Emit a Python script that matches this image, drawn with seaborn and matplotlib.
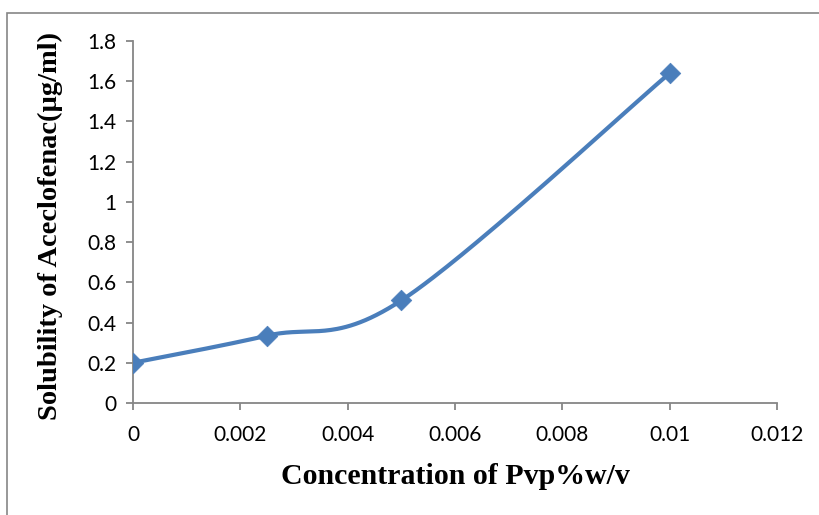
import numpy as np
import pandas as pd
import matplotlib
matplotlib.use("Agg")
import matplotlib.pyplot as plt
from matplotlib.patches import Rectangle
import seaborn as sns

# Measured solubility at each PVP concentration
concentration = [0.0, 0.0025, 0.005, 0.01]
solubility = [0.2, 0.335, 0.51, 1.64]
x_ticks = [0, 0.002, 0.004, 0.006, 0.008, 0.01, 0.012]
x_tick_labels = ["0", "0.002", "0.004", "0.006", "0.008", "0.01", "0.012"]
y_ticks = [0, 0.2, 0.4, 0.6, 0.8, 1, 1.2, 1.4, 1.6, 1.8]
y_tick_labels = ["0", "0.2", "0.4", "0.6", "0.8", "1", "1.2", "1.4", "1.6", "1.8"]

LINE_COLOR = "#4A7EBB"
AXIS_COLOR = "#868686"

sns.set_theme(style="white")
plt.rcParams["font.family"] = ["Lato", "DejaVu Sans"]
plt.rcParams["text.color"] = "black"

fig = plt.figure(figsize=(8.2, 5.15), dpi=100)
ax = fig.add_axes([133 / 820, 1 - 403 / 515, (777 - 133) / 820, (403 - 41) / 515])

xmin, xmax, ymin, ymax = 0, 0.012, 0, 1.8
W, H = 644.0, 362.0  # axes size in pixels, for smoothing in screen space


def smooth_curve(xs, ys, n=60):
    """Catmull-Rom style Bezier smoothing done in screen proportions."""
    px = (np.asarray(xs) - xmin) / (xmax - xmin) * W
    py = (np.asarray(ys) - ymin) / (ymax - ymin) * H
    pts = np.column_stack([px, py])
    ext = np.vstack([pts[0], pts, pts[-1]])
    out = []
    t = np.linspace(0, 1, n)[:, None]
    for i in range(1, len(ext) - 2):
        p0, p1, p2, p3 = ext[i - 1], ext[i], ext[i + 1], ext[i + 2]
        c1 = p1 + (p2 - p0) / 6.0
        c2 = p2 - (p3 - p1) / 6.0
        seg = ((1 - t) ** 3) * p1 + 3 * ((1 - t) ** 2) * t * c1 + 3 * (1 - t) * t ** 2 * c2 + t ** 3 * p2
        out.append(seg if i == 1 else seg[1:])
    out = np.vstack(out)
    return out[:, 0] / W * (xmax - xmin) + xmin, out[:, 1] / H * (ymax - ymin) + ymin


cx, cy = smooth_curve(concentration, solubility)
curve = pd.DataFrame({"x": cx, "y": cy})
points = pd.DataFrame({"x": concentration, "y": solubility})

sns.lineplot(data=curve, x="x", y="y", ax=ax, color=LINE_COLOR, linewidth=3.0,
             sort=False, estimator=None)
sns.scatterplot(data=points, x="x", y="y", ax=ax, color=LINE_COLOR, marker="D",
                s=110, edgecolor=LINE_COLOR, linewidth=0.5, zorder=5)

ax.set_xlim(xmin, xmax)
ax.set_ylim(ymin, ymax)
ax.set_xticks(x_ticks)
ax.set_xticklabels(x_tick_labels)
ax.set_yticks(y_ticks)
ax.set_yticklabels(y_tick_labels)

for side in ["top", "right"]:
    ax.spines[side].set_visible(False)
for side in ["left", "bottom"]:
    ax.spines[side].set_color(AXIS_COLOR)
    ax.spines[side].set_linewidth(1.3)

ax.tick_params(axis="both", direction="out", length=5, width=1.3, color=AXIS_COLOR,
               labelsize=15, labelcolor="black")
ax.tick_params(axis="x", pad=11, bottom=True)
ax.tick_params(axis="y", pad=7, left=True)
ax.grid(False)

ax.set_xlabel("")
ax.set_ylabel("")
fig.text(455 / 820, 1 - 476 / 515, "Concentration of Pvp%w/v", ha="center", va="center",
         fontsize=21.5, fontweight="bold", color="black",
         family=["Liberation Serif", "DejaVu Serif"])
fig.text(50 / 820, 1 - 226 / 515, "Solubility of Aceclofenac(\u00b5g/ml)", ha="center",
         va="center", rotation=90, fontsize=20.5, fontweight="bold", color="black",
         family=["Liberation Serif", "DejaVu Serif"])

# Chart-area frame
fig.patches.append(Rectangle((7 / 820, -0.05), 1.2, 1 - 13 / 515 + 0.05,
                             transform=fig.transFigure, fill=False,
                             edgecolor=AXIS_COLOR, linewidth=1.2))

fig.savefig("out.png", dpi=100)
